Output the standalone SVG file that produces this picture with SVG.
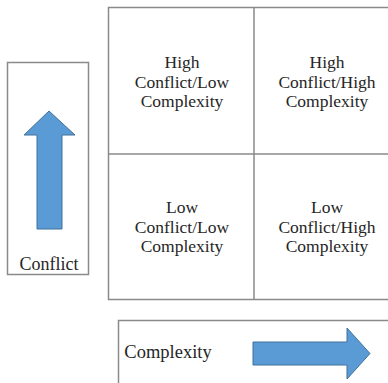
<svg xmlns="http://www.w3.org/2000/svg" width="388" height="383" viewBox="0 0 388 383">
<style>
.box{fill:#fff;stroke:#8a8a8a;stroke-width:1.5}
.line{stroke:#8a8a8a;stroke-width:1.5;fill:none}
.t{fill:#262626;text-anchor:middle}
.arrow{fill:#5b9bd5;stroke:#41719c;stroke-width:1}
</style>
<rect width="388" height="383" fill="#fff"/>
<g font-family="Liberation Serif, Times New Roman, Tinos, DejaVu Serif, serif" font-size="17.5">
<g id="conflict-axis">
<rect class="box" x="7.5" y="62.5" width="81" height="212"/>
<path class="arrow" d="M49,111 L75,135 L62,135 L62,229 L37,229 L37,135 L24,135 Z"/>
<text class="t" x="49" y="270" font-size="18">Conflict</text>
</g>
<g id="complexity-axis">
<rect class="box" x="118.5" y="320.5" width="290" height="80"/>
<text class="t" x="168" y="358" font-size="18.5">Complexity</text>
<path class="arrow" d="M253,342 L347,342 L347,328 L370,353.5 L347,379 L347,365 L253,365 Z"/>
</g>
<g id="grid">
<rect class="box" x="108.5" y="7.5" width="300" height="292"/>
</g>
<g id="connectors">
<line class="line" x1="254" y1="7.5" x2="254" y2="299.5"/>
<line class="line" x1="108.5" y1="154" x2="400" y2="154"/>
</g>
<g id="high-low">
<text class="t" x="182" y="68">High</text>
<text class="t" x="182" y="87.5">Conflict/Low</text>
<text class="t" x="182" y="107">Complexity</text>
</g>
<g id="high-high">
<text class="t" x="327" y="68">High</text>
<text class="t" x="327" y="87.5">Conflict/High</text>
<text class="t" x="327" y="107">Complexity</text>
</g>
<g id="low-low">
<text class="t" x="182" y="213">Low</text>
<text class="t" x="182" y="232.5">Conflict/Low</text>
<text class="t" x="182" y="252">Complexity</text>
</g>
<g id="low-high">
<text class="t" x="327" y="213">Low</text>
<text class="t" x="327" y="232.5">Conflict/High</text>
<text class="t" x="327" y="252">Complexity</text>
</g>
</g>
</svg>
